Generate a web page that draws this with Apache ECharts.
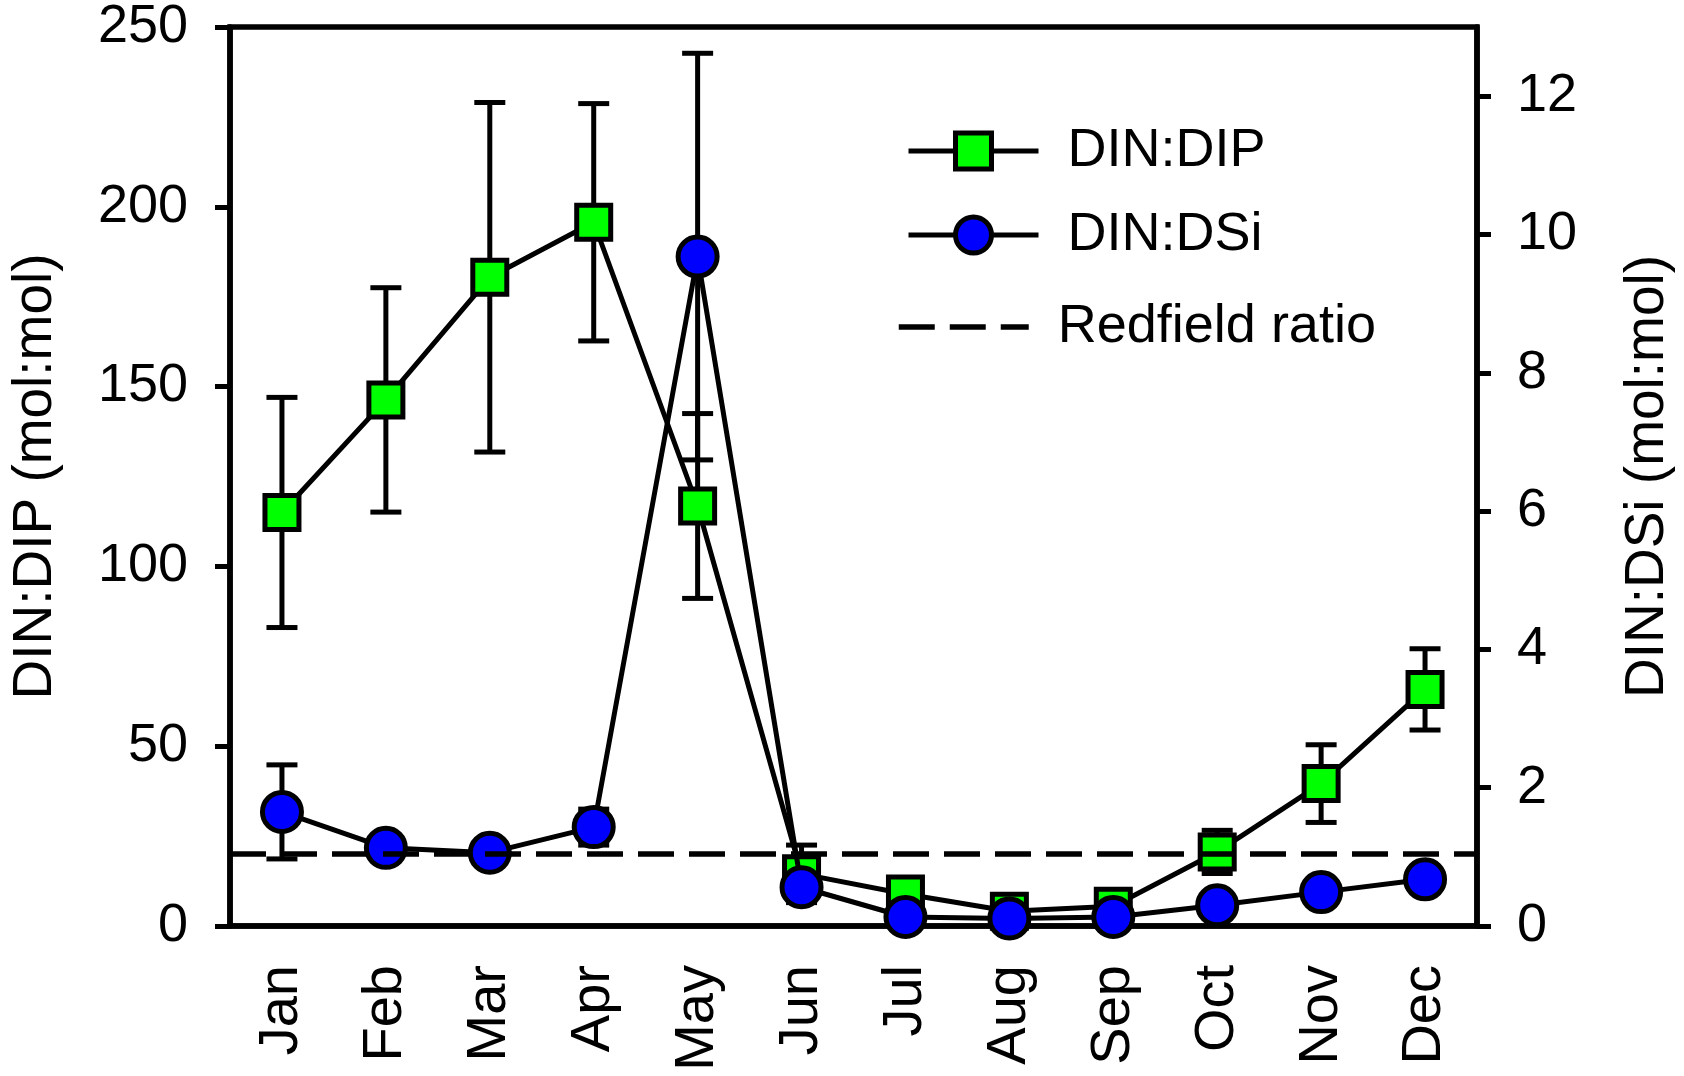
<!DOCTYPE html>
<html>
<head>
<meta charset="utf-8">
<script src="https://cdn.jsdelivr.net/npm/echarts@6/dist/echarts.min.js"></script>
<style>html,body{margin:0;padding:0;background:#fff}#c{width:1684px;height:1076px}</style>
</head>
<body>
<div id="c"></div>
<script>
const months = ['Jan','Feb','Mar','Apr','May','Jun','Jul','Aug','Sep','Oct','Nov','Dec'];
const dinDip = [115, 146.3, 180.4, 195.7, 116.8, 14.5, 8.9, 4.1, 5.5, 20.6, 39.6, 65.8];
const dinDipErr = [32, 31.2, 48.6, 33, 25.7, 8, 2, 1.5, 1.5, 6, 10.8, 11.3];
const dinDsi = [1.65, 1.13, 1.06, 1.43, 9.68, 0.56, 0.13, 0.11, 0.13, 0.30, 0.49, 0.675];
const dinDsiErr = [0.68, 0.12, 0.1, 0.26, 2.94, 0.1, 0.05, 0.05, 0.05, 0.1, 0.1, 0.1];
const redfield = 20;
const leftTicks = [0, 50, 100, 150, 200, 250];
const rightTicks = [0, 2, 4, 6, 8, 10, 12];

const FONT = 'Liberation Sans, Arial, sans-serif';
const chart = echarts.init(document.getElementById('c'), null, {renderer: 'canvas'});

function errData(mean, err) {
  return mean.map((m, i) => [i, m, m - err[i], m + err[i]]);
}
function errRender(params, api) {
  const x = api.value(0);
  const lo = api.coord([x, api.value(2)]);
  const hi = api.coord([x, api.value(3)]);
  const hw = 15.5;
  const st = {stroke: '#000', lineWidth: 5, lineCap: 'butt'};
  return {
    type: 'group',
    children: [
      {type: 'line', shape: {x1: lo[0], y1: lo[1], x2: hi[0], y2: hi[1]}, style: st},
      {type: 'line', shape: {x1: lo[0] - hw, y1: lo[1], x2: lo[0] + hw, y2: lo[1]}, style: st},
      {type: 'line', shape: {x1: hi[0] - hw, y1: hi[1], x2: hi[0] + hw, y2: hi[1]}, style: st}
    ]
  };
}

const legendBase = {
  orient: 'vertical', itemWidth: 130, itemHeight: 45, selectedMode: false, padding: 0,
  lineStyle: {color: '#000', width: 5},
  itemStyle: {borderColor: '#000', borderWidth: 5},
  textStyle: {fontSize: 54, fontFamily: FONT, color: '#000', padding: [0, 0, 0, 24]}
};

const option = {
  animation: false,
  backgroundColor: '#fff',
  grid: {left: 227, right: 207, top: 26, bottom: 150, show: true, borderColor: '#000', borderWidth: 5.5, backgroundColor: 'transparent'},
  legend: [
    Object.assign({}, legendBase, {data: ['DIN:DIP'], left: 906, top: 124}),
    Object.assign({}, legendBase, {data: ['DIN:DSi'], left: 906, top: 208}),
    Object.assign({}, legendBase, {
      data: [{name: 'Redfield ratio', itemStyle: {color: 'rgba(0,0,0,0)', borderColor: 'rgba(0,0,0,0)', borderWidth: 0}}],
      lineStyle: {color: '#000', width: 5.5, type: [36, 15]},
      itemStyle: {color: 'rgba(0,0,0,0)', borderColor: 'rgba(0,0,0,0)', borderWidth: 0},
      left: 896, top: 300
    })
  ],
  xAxis: {
    type: 'category', data: months, boundaryGap: true,
    axisLine: {lineStyle: {color: '#000', width: 5.5}},
    axisTick: {alignWithLabel: true, length: 15, lineStyle: {color: '#000', width: 5}},
    axisLabel: {rotate: 90, margin: 39, fontSize: 56, fontFamily: FONT, color: '#000'},
    splitLine: {show: false}
  },
  yAxis: [
    {
      type: 'value', min: 0, max: 250, interval: 50, position: 'left',
      name: 'DIN:DIP (mol:mol)', nameLocation: 'middle', nameRotate: 90, nameGap: 167,
      nameTextStyle: {fontSize: 55, fontFamily: FONT, color: '#000'},
      axisLine: {show: true, lineStyle: {color: '#000', width: 5.5}},
      axisTick: {show: true, length: 15, lineStyle: {color: '#000', width: 5}},
      axisLabel: {margin: 42, fontSize: 54, fontFamily: FONT, color: '#000'},
      splitLine: {show: false}
    },
    {
      type: 'value', min: 0, max: 13, interval: 2, position: 'right',
      name: 'DIN:DSi (mol:mol)', nameLocation: 'middle', nameRotate: 90, nameGap: 143,
      nameTextStyle: {fontSize: 55, fontFamily: FONT, color: '#000'},
      axisLine: {show: true, lineStyle: {color: '#000', width: 5.5}},
      axisTick: {show: true, length: 14, customValues: rightTicks, lineStyle: {color: '#000', width: 5}},
      axisLabel: {margin: 40, fontSize: 54, fontFamily: FONT, color: '#000', customValues: rightTicks},
      splitLine: {show: false}
    }
  ],
  series: [
    {
      type: 'custom', name: 'dipErr', yAxisIndex: 0, z: 1, silent: true,
      renderItem: errRender, data: errData(dinDip, dinDipErr),
      encode: {x: 0, y: [2, 3]}
    },
    {
      type: 'custom', name: 'dsiErr', yAxisIndex: 1, z: 1, silent: true,
      renderItem: errRender, data: errData(dinDsi, dinDsiErr),
      encode: {x: 0, y: [2, 3]}
    },
    {
      type: 'line', name: 'Redfield ratio', yAxisIndex: 0, data: [], symbol: 'none', z: 1,
      lineStyle: {color: '#000', width: 5.5, type: [36, 15]},
      itemStyle: {color: 'rgba(0,0,0,0)'},
      markLine: {
        silent: true, symbol: ['none', 'none'], label: {show: false},
        lineStyle: {color: '#000', width: 5.5, type: [36, 15]},
        data: [{yAxis: redfield}]
      }
    },
    {
      type: 'line', name: 'DIN:DIP', yAxisIndex: 0, data: dinDip, z: 3,
      symbol: 'rect', symbolSize: 34,
      lineStyle: {color: '#000', width: 5},
      itemStyle: {color: '#00ff00', borderColor: '#000', borderWidth: 5},
      emphasis: {disabled: true}
    },
    {
      type: 'line', name: 'DIN:DSi', yAxisIndex: 1, data: dinDsi, z: 4,
      symbol: 'circle', symbolSize: 39,
      lineStyle: {color: '#000', width: 5},
      itemStyle: {color: '#0000ff', borderColor: '#000', borderWidth: 5},
      emphasis: {disabled: true}
    }
  ]
};
chart.setOption(option);
</script>
</body>
</html>
